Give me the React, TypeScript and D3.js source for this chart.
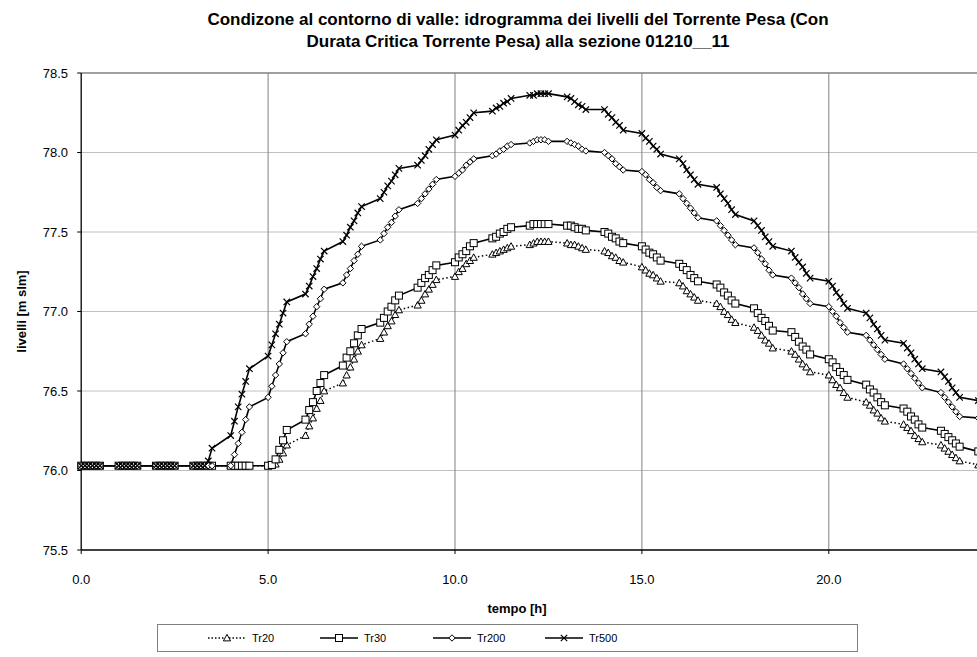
import React from 'react';
import * as d3 from 'd3';

const titleLines = [
  'Condizone al contorno di valle: idrogramma dei livelli del Torrente Pesa (Con',
  'Durata Critica Torrente Pesa) alla sezione 01210__11',
];
const xLabel = 'tempo [h]';
const yLabel = 'livelli [m slm]';
const xTicks = [0, 5, 10, 15, 20, 25];
const xTickLabels = ['0.0', '5.0', '10.0', '15.0', '20.0', ''];
const yTicks = [75.5, 76.0, 76.5, 77.0, 77.5, 78.0, 78.5];
const seriesNames = ['Tr20', 'Tr30', 'Tr200', 'Tr500'];
// sampling inside every hour: h + offset
const clusterOffsets = [0, 0.1, 0.2, 0.3, 0.4, 0.5];
const endHour = 24;

const B = [76.03, 76.03, 76.03, 76.03, 76.03, 76.03];

const tr20 = [
  B, B, B, B, B,
  [76.03, 76.03, 76.04, 76.07, 76.11, 76.16],
  [76.22, 76.28, 76.33, 76.39, 76.44, 76.50],
  [76.55, 76.60, 76.65, 76.70, 76.75, 76.79],
  [76.83, 76.87, 76.91, 76.94, 76.98, 77.01],
  [77.04, 77.07, 77.11, 77.14, 77.17, 77.20],
  [77.22, 77.25, 77.27, 77.30, 77.32, 77.34],
  [77.36, 77.37, 77.38, 77.39, 77.40, 77.41],
  [77.42, 77.43, 77.44, 77.44, 77.44, 77.44],
  [77.43, 77.42, 77.42, 77.41, 77.40, 77.39],
  [77.38, 77.37, 77.35, 77.34, 77.32, 77.31],
  [77.28, 77.26, 77.24, 77.23, 77.21, 77.19],
  [77.18, 77.16, 77.13, 77.11, 77.09, 77.07],
  [77.05, 77.03, 77.00, 76.98, 76.95, 76.93],
  [76.90, 76.88, 76.85, 76.82, 76.80, 76.77],
  [76.75, 76.73, 76.70, 76.67, 76.65, 76.62],
  [76.60, 76.57, 76.54, 76.52, 76.49, 76.46],
  [76.43, 76.41, 76.38, 76.36, 76.33, 76.31],
  [76.29, 76.27, 76.25, 76.22, 76.20, 76.18],
  [76.16, 76.14, 76.12, 76.10, 76.08, 76.06],
];
const tr20End = 76.035;

const tr30 = [
  B, B, B, B, B,
  [76.03, 76.035, 76.07, 76.13, 76.19, 76.255],
  [76.32, 76.38, 76.43, 76.50, 76.55, 76.60],
  [76.66, 76.71, 76.75, 76.80, 76.85, 76.89],
  [76.93, 76.96, 77.00, 77.03, 77.07, 77.10],
  [77.15, 77.18, 77.21, 77.23, 77.26, 77.29],
  [77.31, 77.34, 77.36, 77.38, 77.41, 77.43],
  [77.46, 77.47, 77.49, 77.50, 77.52, 77.53],
  [77.54, 77.55, 77.55, 77.55, 77.55, 77.55],
  [77.54, 77.54, 77.53, 77.52, 77.52, 77.51],
  [77.50, 77.49, 77.47, 77.46, 77.44, 77.43],
  [77.41, 77.39, 77.37, 77.36, 77.34, 77.32],
  [77.30, 77.28, 77.26, 77.23, 77.21, 77.19],
  [77.17, 77.15, 77.12, 77.10, 77.07, 77.05],
  [77.02, 76.99, 76.96, 76.94, 76.91, 76.88],
  [76.87, 76.84, 76.81, 76.78, 76.76, 76.73],
  [76.70, 76.68, 76.65, 76.62, 76.60, 76.57],
  [76.54, 76.51, 76.49, 76.46, 76.43, 76.41],
  [76.39, 76.37, 76.34, 76.32, 76.29, 76.27],
  [76.25, 76.23, 76.21, 76.19, 76.17, 76.15],
];
const tr30End = 76.12;

const tr200 = [
  B, B, B, B,
  [76.03, 76.10, 76.17, 76.24, 76.32, 76.40],
  [76.46, 76.53, 76.60, 76.67, 76.74, 76.81],
  [76.86, 76.92, 76.97, 77.03, 77.08, 77.14],
  [77.18, 77.23, 77.27, 77.32, 77.36, 77.41],
  [77.45, 77.49, 77.53, 77.56, 77.60, 77.64],
  [77.68, 77.71, 77.74, 77.77, 77.80, 77.83],
  [77.85, 77.87, 77.89, 77.92, 77.94, 77.96],
  [77.98, 77.99, 78.01, 78.02, 78.04, 78.05],
  [78.06, 78.07, 78.08, 78.08, 78.08, 78.07],
  [78.07, 78.06, 78.05, 78.04, 78.02, 78.01],
  [78.00, 77.98, 77.96, 77.93, 77.91, 77.89],
  [77.88, 77.86, 77.83, 77.81, 77.78, 77.76],
  [77.74, 77.71, 77.68, 77.65, 77.62, 77.59],
  [77.57, 77.54, 77.51, 77.48, 77.45, 77.42],
  [77.40, 77.37, 77.33, 77.30, 77.26, 77.23],
  [77.21, 77.18, 77.15, 77.11, 77.08, 77.05],
  [77.03, 77.00, 76.97, 76.93, 76.90, 76.87],
  [76.85, 76.82, 76.79, 76.76, 76.73, 76.70],
  [76.67, 76.64, 76.61, 76.58, 76.55, 76.52],
  [76.49, 76.46, 76.43, 76.40, 76.37, 76.34],
];
const tr200End = 76.33;

const tr500 = [
  B, B, B,
  [76.03, 76.03, 76.03, 76.03, 76.06, 76.14],
  [76.22, 76.31, 76.40, 76.48, 76.56, 76.64],
  [76.72, 76.79, 76.86, 76.92, 76.99, 77.06],
  [77.11, 77.16, 77.22, 77.27, 77.33, 77.38],
  [77.44, 77.48, 77.53, 77.57, 77.62, 77.66],
  [77.71, 77.75, 77.79, 77.82, 77.86, 77.90],
  [77.92, 77.95, 77.98, 78.02, 78.05, 78.08],
  [78.11, 78.14, 78.17, 78.19, 78.22, 78.25],
  [78.26, 78.28, 78.29, 78.31, 78.32, 78.34],
  [78.36, 78.36, 78.37, 78.37, 78.37, 78.37],
  [78.35, 78.34, 78.32, 78.30, 78.29, 78.27],
  [78.27, 78.24, 78.22, 78.19, 78.17, 78.14],
  [78.12, 78.09, 78.07, 78.04, 78.02, 77.99],
  [77.96, 77.93, 77.89, 77.86, 77.83, 77.80],
  [77.78, 77.74, 77.71, 77.68, 77.64, 77.61],
  [77.57, 77.54, 77.51, 77.47, 77.44, 77.41],
  [77.38, 77.34, 77.31, 77.28, 77.24, 77.21],
  [77.19, 77.16, 77.12, 77.09, 77.05, 77.02],
  [76.99, 76.96, 76.92, 76.89, 76.85, 76.82],
  [76.80, 76.77, 76.74, 76.70, 76.67, 76.64],
  [76.62, 76.59, 76.56, 76.52, 76.49, 76.46],
];
const tr500End = 76.44;

type Pt = [number, number];

function toPoints(rows: number[][], end: number): Pt[] {
  const pts: Pt[] = [];
  rows.forEach((row, h) => row.forEach((v, k) => pts.push([h + clusterOffsets[k], v])));
  pts.push([endHour, end]);
  return pts;
}

const seriesData = [
  toPoints(tr20, tr20End),
  toPoints(tr30, tr30End),
  toPoints(tr200, tr200End),
  toPoints(tr500, tr500End),
];

const FONT = '"Liberation Sans", Arial, sans-serif';

function Marker({ kind, cx, cy }: { kind: number; cx: number; cy: number }) {
  if (kind === 0) {
    const s = 3.6;
    return (
      <path
        d={`M${cx},${cy - s}L${cx + s},${cy + s * 0.8}L${cx - s},${cy + s * 0.8}Z`}
        fill="#fff"
        stroke="#000"
        strokeWidth={1}
      />
    );
  }
  if (kind === 1) {
    const s = 3.5;
    return <rect x={cx - s} y={cy - s} width={2 * s} height={2 * s} fill="#fff" stroke="#000" strokeWidth={1} />;
  }
  if (kind === 2) {
    const s = 3.2;
    return (
      <path
        d={`M${cx},${cy - s}L${cx + s},${cy}L${cx},${cy + s}L${cx - s},${cy}Z`}
        fill="#fff"
        stroke="#000"
        strokeWidth={1}
      />
    );
  }
  const s = 3.2;
  return (
    <path
      d={`M${cx - s},${cy - s}L${cx + s},${cy + s}M${cx - s},${cy + s}L${cx + s},${cy - s}`}
      stroke="#000"
      strokeWidth={1.2}
      fill="none"
    />
  );
}

export default function App() {
  const W = 977;
  const H = 657;
  const left = 81.2;
  const top = 73;
  const bottom = 550;
  const x = d3.scaleLinear().domain([0, 25]).range([left, left + 37.38 * 25]);
  const y = d3.scaleLinear().domain([75.5, 78.5]).range([bottom, top]);
  const line = d3
    .line<Pt>()
    .x((d) => x(d[0]))
    .y((d) => y(d[1]));

  const legendX = [208, 320, 433, 545];

  return (
    <svg
      width={W}
      height={H}
      style={{ position: 'absolute', left: 0, top: 0, background: '#fff' }}
      fontFamily={FONT}
    >
      <rect x={0} y={0} width={W} height={H} fill="#fff" />
      {titleLines.map((t, i) => (
        <text key={i} x={518} y={25 + i * 22} textAnchor="middle" fontSize={17} fontWeight="bold">
          {t}
        </text>
      ))}
      {/* horizontal gridlines */}
      {yTicks.slice(1, -1).map((v) => (
        <line key={v} x1={left} x2={x(25)} y1={y(v)} y2={y(v)} stroke="#c0c0c0" strokeWidth={1} />
      ))}
      {/* vertical gridlines */}
      {xTicks.slice(1).map((v) => (
        <line key={v} x1={x(v)} x2={x(v)} y1={top} y2={bottom} stroke="#808080" strokeWidth={1} />
      ))}
      {/* top border */}
      <line x1={left} x2={x(25)} y1={top} y2={top} stroke="#808080" strokeWidth={1.5} />
      {/* axes */}
      <line x1={left} x2={left} y1={top} y2={bottom} stroke="#000" strokeWidth={1.3} />
      <line x1={left} x2={x(25)} y1={bottom} y2={bottom} stroke="#000" strokeWidth={1.3} />
      {yTicks.map((v) => (
        <g key={v}>
          <line x1={left - 4} x2={left} y1={y(v)} y2={y(v)} stroke="#000" strokeWidth={1} />
          <text x={68} y={y(v)} dy="0.35em" textAnchor="end" fontSize={13}>
            {v.toFixed(1)}
          </text>
        </g>
      ))}
      {xTicks.map((v, i) => (
        <g key={v}>
          <line x1={x(v)} x2={x(v)} y1={bottom} y2={bottom + 4} stroke="#000" strokeWidth={1} />
          {xTickLabels[i] && (
            <text x={x(v)} y={bottom + 29} dy="0.35em" textAnchor="middle" fontSize={13}>
              {xTickLabels[i]}
            </text>
          )}
        </g>
      ))}
      <text x={517} y={608} dy="0.35em" textAnchor="middle" fontSize={13} fontWeight="bold">
        {xLabel}
      </text>
      <text
        transform={`translate(21,${(top + bottom) / 2}) rotate(-90)`}
        textAnchor="middle"
        dy="0.35em"
        fontSize={13}
        fontWeight="bold"
      >
        {yLabel}
      </text>
      {/* series */}
      {seriesData.map((pts, i) => (
        <path
          key={'l' + i}
          d={line(pts) || ''}
          fill="none"
          stroke="#000"
          strokeWidth={i === 0 ? 1.5 : 1.6}
          strokeDasharray={i === 0 ? '1.5,2.5' : undefined}
        />
      ))}
      {seriesData.map((pts, i) => (
        <g key={'m' + i}>
          {pts.map((p, j) => (
            <Marker key={j} kind={i} cx={x(p[0])} cy={y(p[1])} />
          ))}
        </g>
      ))}
      {/* legend */}
      <rect x={157.5} y={624.5} width={700} height={27} fill="#fff" stroke="#808080" strokeWidth={1} />
      {seriesNames.map((n, i) => (
        <g key={n}>
          <line
            x1={legendX[i]}
            x2={legendX[i] + 38}
            y1={638}
            y2={638}
            stroke="#000"
            strokeWidth={i === 0 ? 1.3 : 1.6}
            strokeDasharray={i === 0 ? '1.5,2' : undefined}
          />
          <Marker kind={i} cx={legendX[i] + 19} cy={638} />
          <text x={legendX[i] + 44} y={638} dy="0.35em" fontSize={11}>
            {n}
          </text>
        </g>
      ))}
    </svg>
  );
}
